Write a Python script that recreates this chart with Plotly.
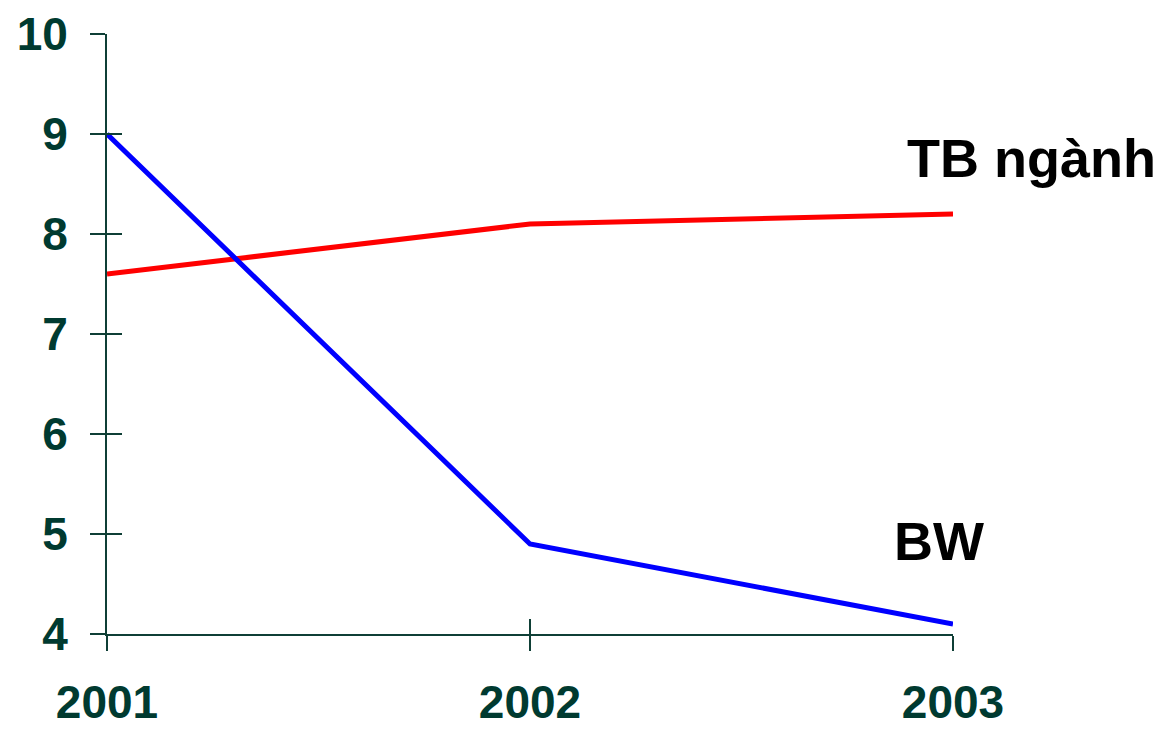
import plotly.graph_objects as go

# Data series
years = [2001, 2002, 2003]
bw = [9.0, 4.9, 4.1]
tb_nganh = [7.6, 8.1, 8.2]
y_ticks = [4, 5, 6, 7, 8, 9, 10]

AXIS_COLOR = "#0f3f36"
LABEL_COLOR = "#003a30"
LABEL_FONT = dict(family="Liberation Sans, Arial, sans-serif", size=46,
                  color=LABEL_COLOR, weight="bold")
NOTE_FONT = dict(family="Liberation Sans, Arial, sans-serif", size=54,
                 color="#000000", weight="bold")

fig = go.Figure()
fig.add_trace(go.Scatter(x=years, y=tb_nganh, mode="lines",
                         line=dict(color="#ff0000", width=5), name="TB ngành"))
fig.add_trace(go.Scatter(x=years, y=bw, mode="lines",
                         line=dict(color="#0000ff", width=5), name="BW"))
# invisible trace that carries the overlay axes (inner half of the tick marks)
fig.add_trace(go.Scatter(x=years, y=bw, mode="lines", xaxis="x2", yaxis="y2",
                         line=dict(color="rgba(0,0,0,0)"), hoverinfo="skip", showlegend=False))

common = dict(showgrid=False, zeroline=False, automargin=False)
fig.update_layout(
    width=1161, height=730,
    margin=dict(l=107, r=208, t=34, b=96),
    paper_bgcolor="white", plot_bgcolor="white",
    showlegend=False,
    xaxis=dict(range=[2001, 2003], tickvals=years, ticktext=[str(y) for y in years],
               showline=True, linecolor=AXIS_COLOR, linewidth=2,
               ticks="outside", ticklen=15, tickwidth=2, tickcolor=AXIS_COLOR,
               tickfont=LABEL_FONT, ticklabelstandoff=12, **common),
    yaxis=dict(range=[4, 10], tickvals=y_ticks,
               showline=True, linecolor=AXIS_COLOR, linewidth=2,
               ticks="outside", ticklen=15, tickwidth=2, tickcolor=AXIS_COLOR,
               tickfont=LABEL_FONT, ticklabelstandoff=13, **common),
    xaxis2=dict(range=[2001, 2003], tickvals=years, overlaying="x", side="bottom",
                showline=False, showticklabels=False,
                ticks="inside", ticklen=15, tickwidth=2, tickcolor=AXIS_COLOR, **common),
    yaxis2=dict(range=[4, 10], tickvals=y_ticks, overlaying="y", side="left",
                showline=False, showticklabels=False,
                ticks="inside", ticklen=15, tickwidth=2, tickcolor=AXIS_COLOR, **common),
)

fig.add_annotation(text="TB ngành", xref="paper", yref="y", x=0.943, y=8.76,
                   xanchor="left", yanchor="middle", showarrow=False, font=NOTE_FONT)
fig.add_annotation(text="BW", xref="paper", yref="y", x=0.928, y=4.93,
                   xanchor="left", yanchor="middle", showarrow=False, font=NOTE_FONT)

fig.write_html("out.html")
